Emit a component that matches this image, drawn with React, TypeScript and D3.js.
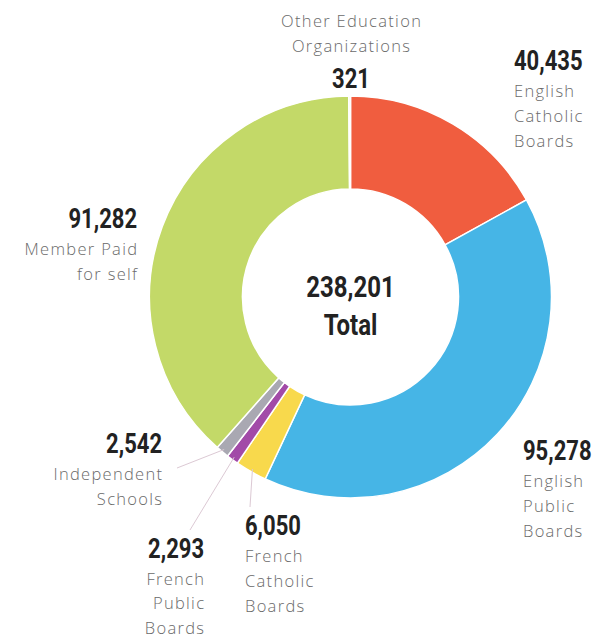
import React from "react";
import * as d3 from "d3";

const categories = [
  "English Catholic Boards",
  "English Public Boards",
  "French Catholic Boards",
  "French Public Boards",
  "Independent Schools",
  "Member Paid for self",
  "Other Education Organizations",
];
const values = [40435, 95278, 6050, 2293, 2542, 91282, 321];
const labelLines = [
  ["English", "Catholic", "Boards"],
  ["English", "Public", "Boards"],
  ["French", "Catholic", "Boards"],
  ["French", "Public", "Boards"],
  ["Independent", "Schools"],
  ["Member Paid", "for self"],
  ["Other Education", "Organizations"],
];
const colors = ["#F05D3F", "#46B5E6", "#F8D94C", "#A24AA8", "#A9A8B2", "#C3D968", "#F4EDBC"];
const totalLabel = "Total";

// layout: label anchor, alignment, number above/below text, optional leader point
const labelLayout = [
  { x: 514, y: 70, anchor: "start", numFirst: true, leader: null },
  { x: 523, y: 460, anchor: "start", numFirst: true, leader: null },
  { x: 245, y: 535, anchor: "start", numFirst: true, leader: [250, 507] },
  { x: 204, y: 558, anchor: "end", numFirst: true, leader: [190, 530] },
  { x: 162, y: 453, anchor: "end", numFirst: true, leader: [177, 468] },
  { x: 137, y: 228, anchor: "end", numFirst: true, leader: null },
  { x: 351, y: 88, anchor: "middle", numFirst: false, leader: null },
];

const W = 605;
const H = 640;
const cx = 350.5;
const cy = 297;
const outerR = 201;
const innerR = 108;

const numFont = "Roboto, 'DejaVu Sans', sans-serif";
const txtFont = "'Open Sans', 'DejaVu Sans', sans-serif";

function NumText({ x, y, anchor, text, size, sx }: any) {
  return (
    <g transform={`translate(${x},${y}) scale(${sx},1)`}>
      <text
        x={0}
        y={0}
        textAnchor={anchor}
        fontFamily={numFont}
        fontWeight={700}
        fontSize={size}
        fill="#222"
      >
        {text}
      </text>
    </g>
  );
}

function LabelText({ x, y, anchor, text }: any) {
  // letter-spacing adds trailing space; compensate for end/middle anchors
  const ls = 1.3;
  const dx = anchor === "end" ? ls : anchor === "middle" ? ls / 2 : 0;
  return (
    <text
      x={x + dx}
      y={y}
      textAnchor={anchor}
      fontFamily={txtFont}
      fontWeight={300}
      fontSize={16.5}
      letterSpacing={ls}
      fill="#6a6a6a"
    >
      {text}
    </text>
  );
}

export default function App() {
  const fmt = d3.format(",");
  const total = d3.sum(values);
  const pie = d3
    .pie<number>()
    .sort(null)
    .value((d) => d)
    .startAngle(0)
    .endAngle(2 * Math.PI);
  const arcs = pie(values);
  const arc = d3.arc<d3.PieArcDatum<number>>().innerRadius(innerR).outerRadius(outerR);
  const lineH = 25;

  return (
    <div style={{ position: "absolute", left: 0, top: 0, width: W, height: H, background: "#fff" }}>
      <svg width={W} height={H} viewBox={`0 0 ${W} ${H}`}>
        <rect width={W} height={H} fill="#fff" />
        <g transform={`translate(${cx},${cy})`}>
          {arcs.map((a, i) => (
            <path key={i} d={arc(a) || ""} fill={colors[i]} stroke="#fff" strokeWidth={1.5} />
          ))}
        </g>
        {arcs.map((a, i) => {
          const L = labelLayout[i];
          if (!L.leader) return null;
          const mid = (a.startAngle + a.endAngle) / 2;
          const px = cx + (outerR - 3) * Math.sin(mid);
          const py = cy - (outerR - 3) * Math.cos(mid);
          return (
            <line
              key={"l" + i}
              x1={L.leader[0]}
              y1={L.leader[1]}
              x2={px}
              y2={py}
              stroke="#DCC9D4"
              strokeWidth={1}
            />
          );
        })}
        {labelLayout.map((L, i) => {
          const lines = labelLines[i];
          const numStr = fmt(values[i]);
          const lh = i === 3 ? 24.5 : lineH;
          if (L.numFirst) {
            return (
              <g key={"t" + i}>
                <NumText x={L.x} y={L.y} anchor={L.anchor} text={numStr} size={27.5} sx={0.8} />
                {lines.map((ln, j) => (
                  <LabelText key={j} x={L.x} y={L.y + 26.5 + j * lh} anchor={L.anchor} text={ln} />
                ))}
              </g>
            );
          }
          return (
            <g key={"t" + i}>
              {lines.map((ln, j) => (
                <LabelText key={j} x={L.x} y={L.y - 61 + j * lh} anchor={L.anchor} text={ln} />
              ))}
              <NumText x={L.x} y={L.y} anchor={L.anchor} text={numStr} size={27.5} sx={0.8} />
            </g>
          );
        })}
        <NumText x={cx} y={297} anchor="middle" text={fmt(total)} size={30} sx={0.8} />
        <NumText x={cx} y={335} anchor="middle" text={totalLabel} size={30} sx={0.8} />
      </svg>
    </div>
  );
}
